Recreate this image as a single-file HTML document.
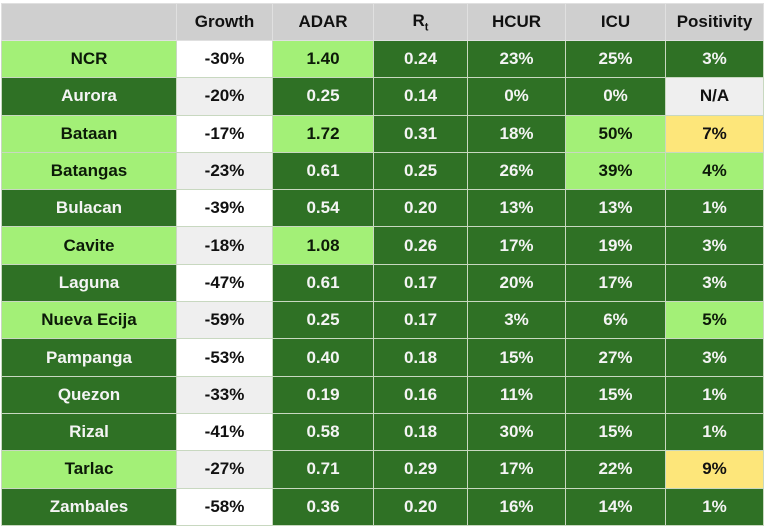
<!DOCTYPE html>
<html><head><meta charset="utf-8"><style>
html,body{margin:0;padding:0;background:#fff;width:768px;height:532px;overflow:hidden}
table{position:absolute;left:1px;top:3px;border-collapse:collapse;font-family:"Liberation Sans",sans-serif;font-weight:bold;font-size:17px;table-layout:fixed}
td,th{border:1px solid #c8d8c0;text-align:center;padding:0;height:36.3px}
th{background:#cfcfcf;color:#111;height:36px;border-color:#e0e0e0}
.d{background:#2f7125;color:#f4f4f4}
.l{background:#a3f077;color:#0c1a08}
.w{background:#ffffff;color:#111}
.g{background:#efefef;color:#111}
.y{background:#fde67a;color:#111}
</style></head><body>
<table>
<colgroup><col style="width:175px"><col style="width:96px"><col style="width:101px"><col style="width:94px"><col style="width:98px"><col style="width:100px"><col style="width:98px"></colgroup>
<tr><th></th><th>Growth</th><th>ADAR</th><th>R<sub style="font-size:11px">t</sub></th><th>HCUR</th><th>ICU</th><th>Positivity</th></tr>
<tr><td class="l">NCR</td><td class="w">-30%</td><td class="l">1.40</td><td class="d">0.24</td><td class="d">23%</td><td class="d">25%</td><td class="d">3%</td></tr>
<tr><td class="d">Aurora</td><td class="g">-20%</td><td class="d">0.25</td><td class="d">0.14</td><td class="d">0%</td><td class="d">0%</td><td class="g">N/A</td></tr>
<tr><td class="l">Bataan</td><td class="w">-17%</td><td class="l">1.72</td><td class="d">0.31</td><td class="d">18%</td><td class="l">50%</td><td class="y">7%</td></tr>
<tr><td class="l">Batangas</td><td class="g">-23%</td><td class="d">0.61</td><td class="d">0.25</td><td class="d">26%</td><td class="l">39%</td><td class="l">4%</td></tr>
<tr><td class="d">Bulacan</td><td class="w">-39%</td><td class="d">0.54</td><td class="d">0.20</td><td class="d">13%</td><td class="d">13%</td><td class="d">1%</td></tr>
<tr><td class="l">Cavite</td><td class="g">-18%</td><td class="l">1.08</td><td class="d">0.26</td><td class="d">17%</td><td class="d">19%</td><td class="d">3%</td></tr>
<tr><td class="d">Laguna</td><td class="w">-47%</td><td class="d">0.61</td><td class="d">0.17</td><td class="d">20%</td><td class="d">17%</td><td class="d">3%</td></tr>
<tr><td class="l">Nueva Ecija</td><td class="g">-59%</td><td class="d">0.25</td><td class="d">0.17</td><td class="d">3%</td><td class="d">6%</td><td class="l">5%</td></tr>
<tr><td class="d">Pampanga</td><td class="w">-53%</td><td class="d">0.40</td><td class="d">0.18</td><td class="d">15%</td><td class="d">27%</td><td class="d">3%</td></tr>
<tr><td class="d">Quezon</td><td class="g">-33%</td><td class="d">0.19</td><td class="d">0.16</td><td class="d">11%</td><td class="d">15%</td><td class="d">1%</td></tr>
<tr><td class="d">Rizal</td><td class="w">-41%</td><td class="d">0.58</td><td class="d">0.18</td><td class="d">30%</td><td class="d">15%</td><td class="d">1%</td></tr>
<tr><td class="l">Tarlac</td><td class="g">-27%</td><td class="d">0.71</td><td class="d">0.29</td><td class="d">17%</td><td class="d">22%</td><td class="y">9%</td></tr>
<tr><td class="d">Zambales</td><td class="w">-58%</td><td class="d">0.36</td><td class="d">0.20</td><td class="d">16%</td><td class="d">14%</td><td class="d">1%</td></tr>
</table>
</body></html>
